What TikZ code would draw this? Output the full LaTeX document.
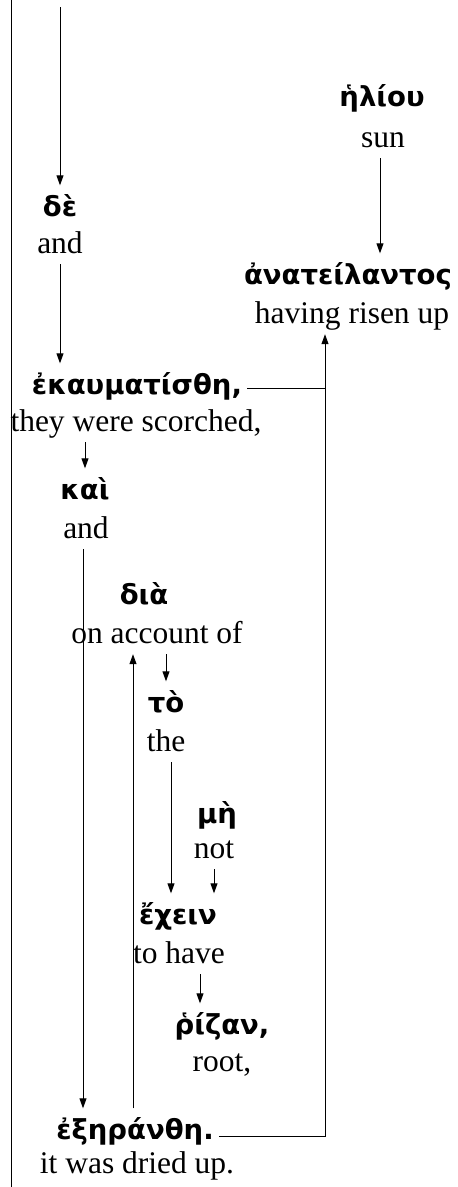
\documentclass[tikz,border=0pt]{standalone}
\usepackage{fontspec}
\setmainfont{Liberation Serif}
\newfontfamily\greekfont{DejaVu Sans}
\usetikzlibrary{arrows.meta}
\tikzstyle{greek}=[font=\greekfont\bfseries\fontsize{27.5}{31}\selectfont, text height=20pt, text depth=7pt, inner xsep=5pt, inner ysep=11pt]
\tikzstyle{gloss}=[font=\fontsize{31.5}{36}\selectfont, text height=22pt, text depth=6pt, inner xsep=2pt, inner ysep=5pt]
\tikzstyle{link}=[-{Triangle[length=10pt,width=7pt]}, line width=0.9pt]
\tikzstyle{rule}=[line width=0.9pt]

\begin{document}
\begin{tikzpicture}[x=1pt,y=-1pt]
\useasboundingbox (0,0) rectangle (458,1187);
\coordinate (margintop) at (11,0);
\coordinate (marginbot) at (11,1187);
\coordinate (start) at (60,7);
\coordinate (bend) at (325,1136);

\draw (60,210) node[greek] (de) {δὲ};
\draw (60,245) node[gloss] (de-en) {and};
\draw (382,100) node[greek] (helio) {ἡλίου};
\draw (383,139) node[gloss] (helio-en) {sun};
\draw (348,278) node[greek] (anat) {ἀνατείλαντος};
\draw (352,315) node[gloss] (anat-en) {having risen up};
\draw (137,388) node[greek] (ekau) {ἐκαυματίσθη,};
\draw (136,423) node[gloss] (ekau-en) {they were scorched,};
\draw (85,493) node[greek] (kai) {καὶ};
\draw (86,530) node[gloss] (kai-en) {and};
\draw (144,598) node[greek] (dia) {διὰ};
\draw (157,635) node[gloss] (dia-en) {on account of};
\draw (166,706) node[greek] (to) {τὸ};
\draw (166,743) node[gloss] (to-en) {the};
\draw (217,817) node[greek] (me) {μὴ};
\draw (214,850) node[gloss] (me-en) {not};
\draw (178,918) node[greek] (echein) {ἔχειν};
\draw (179,955) node[gloss] (echein-en) {to have};
\draw (222,1028) node[greek] (rizan) {ῥίζαν,};
\draw (222,1063) node[gloss] (rizan-en) {root,};
\draw (135,1133) node[greek] (exer) {ἐξηράνθη.};
\draw (137,1165) node[gloss] (exer-en) {it was dried up.};

\draw[rule] (margintop) -- (marginbot);
\draw[link] (start) -- (start |- de.north);
\draw[link] (de-en.south) -- (de-en.south |- ekau.north);
\draw[link] (helio-en.south -| 380,0) -- (anat.north -| 380,0);
\draw[rule] (ekau.east) -- (ekau.east -| bend);
\draw[link] (exer.east |- bend) -- (bend) -- (bend |- anat-en.south);
\draw[link] (ekau-en.south -| kai) -- (kai.north);
\draw[link] (kai-en.south -| 83,0) -- (exer.north -| 83,0);
\draw[link] (exer.north -| 133,0) -- (dia-en.south -| 133,0);
\draw[link] (dia-en.south -| to) -- (to.north);
\draw[link] (to-en.south -| 171,0) -- (echein.north -| 171,0);
\draw[link] (me-en.south) -- (me-en.south |- echein.north);
\draw[link] (echein-en.south -| 200,0) -- (rizan.north -| 200,0);
\end{tikzpicture}
\end{document}
